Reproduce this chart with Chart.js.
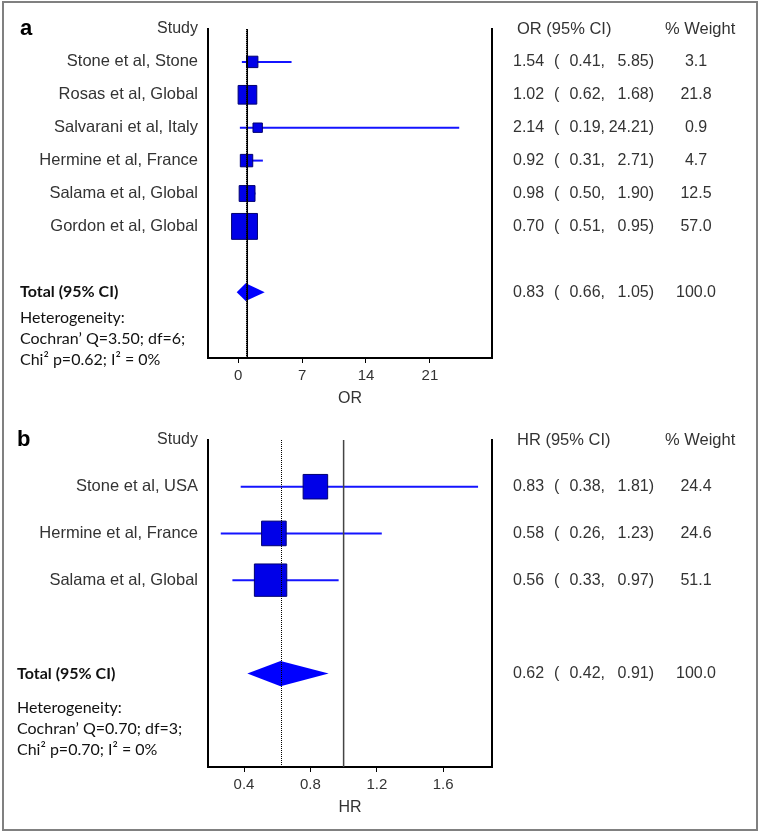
<!DOCTYPE html>
<html>
<head>
<meta charset="utf-8">
<script src="https://cdn.jsdelivr.net/npm/chart.js@4.4.0/dist/chart.umd.min.js"></script>
<style>
  body { margin: 0; background: #fff; }
  #frame { position: absolute; left: 2px; top: 1px; width: 752px; height: 826px; border: 2px solid #808080; }
  canvas { position: absolute; left: 0; }
  #chartA { top: 0; }
  #chartB { top: 415px; }
</style>
</head>
<body>
<div id="frame"></div>
<canvas id="chartA" width="762" height="415"></canvas>
<canvas id="chartB" width="762" height="420"></canvas>
<script>
// panel a - odds ratios
const studiesA = ['Stone et al, Stone', 'Rosas et al, Global', 'Salvarani et al, Italy', 'Hermine et al, France', 'Salama et al, Global', 'Gordon et al, Global'];
const orA = [1.54, 1.02, 2.14, 0.92, 0.98, 0.70];
const loA = [0.41, 0.62, 0.19, 0.31, 0.50, 0.51];
const hiA = [5.85, 1.68, 24.21, 2.71, 1.90, 0.95];
const weightA = [3.1, 21.8, 0.9, 4.7, 12.5, 57.0];
const totalA = [0.83, 0.66, 1.05]; // est, lo, hi
const ticksA = [0, 7, 14, 21];
const hetA = ['Heterogeneity:', 'Cochran\u2019 Q=3.50; df=6;', 'Chi\u00b2 p=0.62; I\u00b2 = 0%'];

// panel b - hazard ratios
const studiesB = ['Stone et al, USA', 'Hermine et al, France', 'Salama et al, Global'];
const hrB = [0.83, 0.58, 0.56];
const loB = [0.38, 0.26, 0.33];
const hiB = [1.81, 1.23, 0.97];
const weightB = [24.4, 24.6, 51.1];
const totalB = [0.62, 0.42, 0.91];
const ticksB = [0.4, 0.8, 1.2, 1.6];
const hetB = ['Heterogeneity:', 'Cochran\u2019 Q=0.70; df=3;', 'Chi\u00b2 p=0.70; I\u00b2 = 0%'];

Chart.defaults.font.family = "'Liberation Sans', Arial, sans-serif";
const textColor = '#333';

// diamond, reference lines and the text columns
const forestPlugin = {
    id: 'forest',
    afterDatasetsDraw(chart, args, o) {
        const { ctx, chartArea: area, scales: { x, y } } = chart;
        const rowPx = y.getPixelForValue(1) - y.getPixelForValue(0);
        const cy = y.getPixelForValue(o.totalRow);
        const [est, lo, hi] = o.total;
        const ex = x.getPixelForValue(est);
        const lx = Math.min(x.getPixelForValue(lo), ex - 9);
        const hx = Math.max(x.getPixelForValue(hi), ex + 19);
        const h = rowPx * 0.27;
        ctx.save();
        ctx.fillStyle = '#0000ff';
        ctx.beginPath();
        ctx.moveTo(lx, cy);
        ctx.lineTo(ex, cy - h);
        ctx.lineTo(hx, cy);
        ctx.lineTo(ex, cy + h);
        ctx.closePath();
        ctx.fill();
        // line of no effect
        const nx = x.getPixelForValue(1);
        ctx.strokeStyle = o.nullColor;
        ctx.lineWidth = 1.5;
        ctx.beginPath();
        ctx.moveTo(nx, area.top);
        ctx.lineTo(nx, area.bottom);
        ctx.stroke();
        // pooled estimate, dotted
        ctx.strokeStyle = '#000';
        ctx.lineWidth = 1;
        ctx.setLineDash([1, 1]);
        ctx.beginPath();
        ctx.moveTo(Math.round(ex) + 0.5, area.top);
        ctx.lineTo(Math.round(ex) + 0.5, area.bottom);
        ctx.stroke();
        ctx.restore();
    },
    afterDraw(chart, args, o) {
        const { ctx, scales: { y } } = chart;
        const y0 = y.getPixelForValue(0);
        ctx.save();
        ctx.textBaseline = 'middle';
        ctx.fillStyle = textColor;
        ctx.font = "16.5px 'Liberation Sans'";
        ctx.textAlign = 'left';
        ctx.fillText(o.header, 517, y0);
        ctx.fillText('% Weight', 665, y0);
        ctx.font = "16px 'Liberation Sans'";
        const lines = o.est.map((e, i) => [e, o.lo[i], o.hi[i], o.weights[i], i + 1]);
        lines.push([...o.total, 100, o.totalRow]);
        lines.forEach(([e, l, h, w, r]) => {
            const py = y.getPixelForValue(r);
            ctx.textAlign = 'left';
            ctx.fillText(e.toFixed(2), 513, py);
            ctx.fillText('(', 554, py);
            ctx.textAlign = 'right';
            ctx.fillText(`${l.toFixed(2)},`, 605, py);
            ctx.fillText(`${h.toFixed(2)})`, 654, py);
            ctx.textAlign = 'center';
            ctx.fillText(w.toFixed(1), 696, py);
        });
        // total and heterogeneity on the left
        const ty = y.getPixelForValue(o.totalRow);
        ctx.textAlign = 'left';
        ctx.fillStyle = '#111';
        ctx.font = "bold 16px Lato";
        ctx.fillText('Total (95% CI)', o.textX, ty);
        ctx.font = "16px Lato";
        o.het.forEach((t, i) => ctx.fillText(t, o.textX, ty + o.hetGap + i * 21));
        // panel letter
        ctx.fillStyle = '#000';
        ctx.font = "bold 22px 'Liberation Sans'";
        ctx.fillText(o.letter, o.textX, y0);
        ctx.restore();
    }
};

function makeForest(id, p) {
    const rows = p.studies.map((_, i) => i + 1);
    const ciSets = p.studies.map((_, i) => ({
        data: [{ x: p.lo[i], y: rows[i] }, { x: p.hi[i], y: rows[i] }],
        showLine: true,
        borderColor: '#1414ff',
        borderWidth: 2,
        pointRadius: 0,
        order: 2
    }));
    const boxSet = {
        data: p.est.map((v, i) => ({ x: v, y: rows[i] })),
        pointStyle: 'rect',
        // box size grows with study weight
        pointRadius: c => {
            const ys = c.chart.scales.y;
            const rowPx = Math.abs(ys.getPixelForValue(1) - ys.getPixelForValue(0));
            return (7 + 0.076 * rowPx * Math.sqrt(p.weights[c.dataIndex])) / Math.SQRT2;
        },
        backgroundColor: '#0000e8',
        borderColor: '#000070',
        borderWidth: 1,
        order: 1
    };
    return new Chart(document.getElementById(id), {
        type: 'scatter',
        data: { datasets: [...ciSets, boxSet] },
        options: {
            responsive: false,
            animation: false,
            events: [],
            layout: { padding: { top: p.top, bottom: p.bottom, left: 0, right: 0 } },
            plugins: {
                legend: { display: false },
                tooltip: { enabled: false },
                forest: {
                    est: p.est, lo: p.lo, hi: p.hi, weights: p.weights,
                    total: p.total, totalRow: rows.length + 2,
                    header: p.header, het: p.het, hetGap: p.hetGap,
                    textX: p.textX, letter: p.letter, nullColor: p.nullColor
                }
            },
            scales: {
                x: {
                    type: 'linear',
                    min: p.range[0],
                    max: p.range[1],
                    afterBuildTicks: s => { s.ticks = p.ticks.map(v => ({ value: v })); },
                    afterFit: s => { s.height = 50; },
                    ticks: { callback: p.tickFmt, font: { size: 15 }, color: textColor, padding: 4, maxRotation: 0, autoSkip: false },
                    grid: { drawOnChartArea: false, drawTicks: true, tickLength: 5, color: '#000' },
                    border: { display: true, color: '#000', width: 2 },
                    title: { display: true, text: p.axisTitle, font: { size: 16 }, color: textColor, padding: { top: 0, bottom: 0 } }
                },
                y: {
                    type: 'linear',
                    position: 'left',
                    reverse: true,
                    min: 0,
                    max: p.maxRow,
                    afterBuildTicks: s => { s.ticks = [0, ...rows].map(v => ({ value: v })); },
                    afterFit: s => { s.width = 208; },
                    ticks: {
                        callback: v => (v === 0 ? 'Study' : p.studies[v - 1]),
                        font: c => ({ size: c.index === 0 ? 16 : 16.5 }),
                        color: textColor, padding: 2, autoSkip: false
                    },
                    grid: { display: false },
                    border: { display: true, color: '#000', width: 2 }
                },
                yR: {
                    type: 'linear',
                    position: 'right',
                    min: 0,
                    max: p.maxRow,
                    afterFit: s => { s.width = 270; },
                    ticks: { display: false },
                    grid: { display: false },
                    border: { display: true, color: '#000', width: 2 }
                }
            }
        },
        plugins: [forestPlugin]
    });
}

makeForest('chartA', {
    studies: studiesA, est: orA, lo: loA, hi: hiA, weights: weightA, total: totalA,
    ticks: ticksA, tickFmt: v => String(v), range: [-3.3, 27.8], maxRow: 10,
    header: 'OR (95% CI)', axisTitle: 'OR', het: hetA, hetGap: 26, textX: 20, letter: 'a',
    nullColor: '#000', top: 29, bottom: 7
});

makeForest('chartB', {
    studies: studiesB, est: hrB, lo: loB, hi: hiB, weights: weightB, total: totalB,
    ticks: ticksB, tickFmt: v => v.toFixed(1), range: [0.183, 1.894], maxRow: 7,
    header: 'HR (95% CI)', axisTitle: 'HR', het: hetB, hetGap: 34, textX: 17, letter: 'b',
    nullColor: '#444', top: 25, bottom: 18
});
</script>
</body>
</html>
